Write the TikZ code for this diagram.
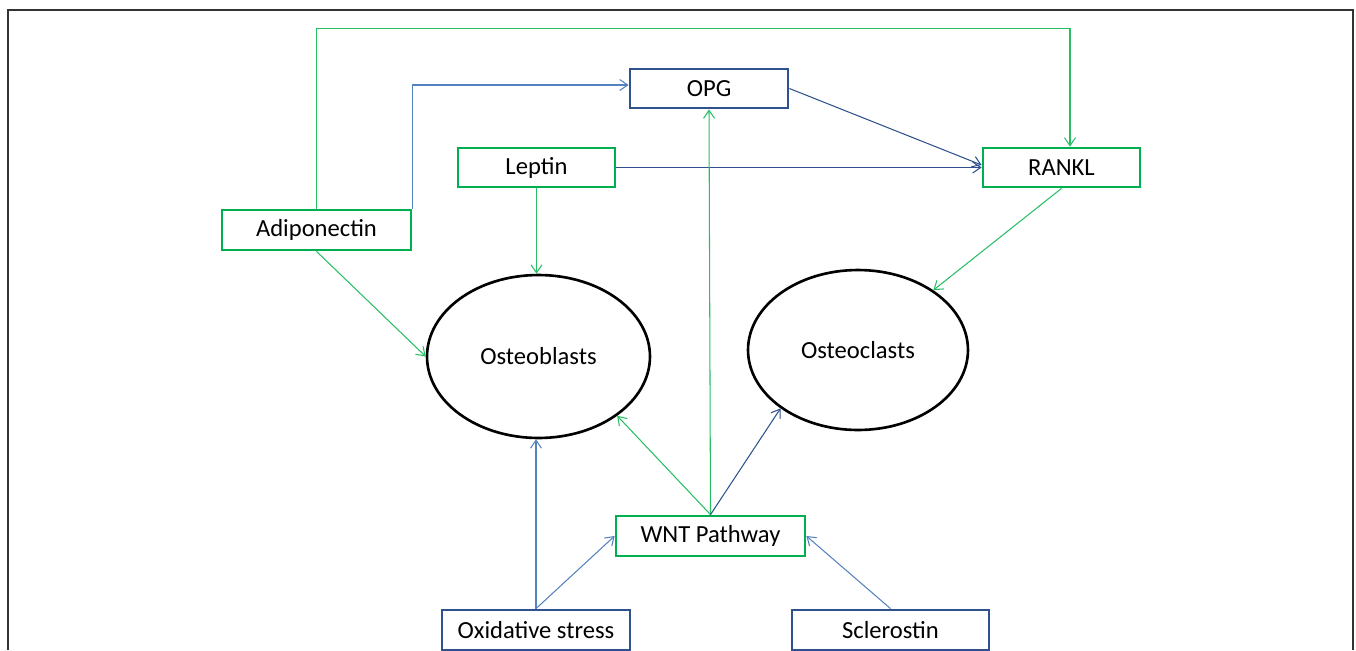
\documentclass[tikz,border=0pt]{standalone}
\usepackage{fontspec}
\setmainfont{Carlito}
\usepackage{tikz}
\usetikzlibrary{shapes.geometric,arrows.meta}

\definecolor{boxgreen}{RGB}{0,176,80}
\definecolor{boxblue}{RGB}{47,82,143}
\definecolor{linegreen}{RGB}{40,190,100}
\definecolor{lineblue}{RGB}{84,130,190}
\definecolor{linedark}{RGB}{47,82,143}

\tikzset{
	gbox/.style={draw=boxgreen,line width=1.6pt,fill=white,minimum height=0.78cm,inner sep=0pt},
	bbox/.style={draw=boxblue,line width=1.6pt,fill=white,minimum height=0.78cm,inner sep=0pt},
	cell/.style={ellipse,draw=black,line width=1.5pt,inner sep=0pt},
	garrow/.style={draw=linegreen,line width=0.6pt,-{Straight Barb[length=1.6mm,width=2.2mm]}},
	barrow/.style={draw=lineblue,line width=0.6pt,-{Straight Barb[length=1.6mm,width=2.2mm]}},
	darrow/.style={draw=linedark,line width=0.6pt,-{Straight Barb[length=1.6mm,width=2.2mm]}}
}

\begin{document}
\begin{tikzpicture}[x=0.02cm,y=-0.02cm,every node/.style={font=\fontsize{14}{17}\selectfont}]
					\useasboundingbox (0,0) rectangle (1356,650);
					\draw[black!80,line width=0.9pt] (8,650) -- (8,10) -- (1353,10) -- (1353,650);
					
					\node[bbox,minimum width=3.16cm] (opg) at (709,88.5) {OPG};
					\node[gbox,minimum width=3.14cm] (leptin) at (536.5,167.5) {Leptin};
					\node[gbox,minimum width=3.14cm] (rankl) at (1061.5,167.5) {RANKL};
					\node[gbox,minimum width=3.78cm,minimum height=0.8cm] (adipo) at (316.5,230) {Adiponectin};
					\node[gbox,minimum width=3.78cm,minimum height=0.8cm] (wnt) at (710.5,536) {WNT Pathway};
					\node[bbox,minimum width=3.76cm,minimum height=0.8cm] (oxid) at (536,630) {Oxidative stress};
					\node[bbox,minimum width=3.94cm,minimum height=0.8cm] (scler) at (890.5,630) {Sclerostin};
					
					\node[cell,minimum width=4.46cm,minimum height=3.26cm] (ob) at (538.5,356.5) {Osteoblasts};
					\node[cell,minimum width=4.4cm,minimum height=3.2cm] (oc) at (858,350) {Osteoclasts};
					
					\draw[garrow] (adipo.north) -- ++(0,-180) -| ([xshift=0.17cm]rankl.north);
					\draw[barrow] (adipo.north east) |- ([yshift=0.07cm]opg.west);
					\draw[darrow] (opg.east) -- ([yshift=0.05cm]rankl.west);
					\draw[darrow] (leptin.east) -- (rankl.west);
					\draw[garrow] (leptin.south) -- (leptin.south |- ob.north);
					\draw[garrow] (adipo.south) -- (ob.west);
					\draw[garrow] (rankl.south) -- (oc);
					
					\draw[garrow] (wnt.north) -- (opg.south);
					\draw[garrow] (wnt.north) -- (ob.-37);
					\draw[darrow] (wnt.north) -- (oc.217);
					
					\draw[barrow] (oxid.north) -- (oxid.north |- ob.south);
					\draw[barrow] (oxid.north) -- (wnt.west);
					\draw[barrow] (scler.north) -- (wnt.east);
					
				\end{tikzpicture}
\end{document}
